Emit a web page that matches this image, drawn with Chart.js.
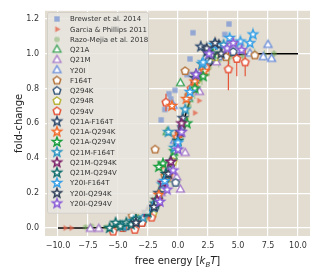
<!DOCTYPE html>
<html>
<head>
<meta charset="utf-8">
<script src="https://cdn.jsdelivr.net/npm/chart.js@4.4.0/dist/chart.umd.min.js"></script>
<style>
  html, body { margin: 0; padding: 0; background: #fff; }
</style>
</head>
<body>
<canvas id="chart" width="320" height="278"></canvas>
<script>
/* ===============================
   DATA (free energy in kBT, fold-change)
================================ */

const xTicks = [-10, -7.5, -5, -2.5, 0, 2.5, 5, 7.5, 10];
const yTicks = [0, 0.2, 0.4, 0.6, 0.8, 1.0, 1.2];

// theory curve
const theoryF = [-10, -9, -8, -7, -6, -5, -4, -3, -2, -1.5, -1, -0.5, 0, 0.5, 1, 1.5, 2, 3, 4, 5, 6, 7, 8, 9, 10];
const theoryFC = [0.0, 0.0, 0.0, 0.001, 0.002, 0.007, 0.018, 0.047, 0.12, 0.18, 0.27, 0.38, 0.5, 0.62, 0.73, 0.82, 0.88, 0.95, 0.98, 0.993, 0.997, 0.999, 1.0, 1.0, 1.0];

const brewF = [-1.1, -1.0, -0.75, -0.6, -0.4, -0.25, 0.75, 1.0, 1.25, 3.9, 4.25, -1.4];
const brewFC = [0.68, 0.72, 0.77, 0.74, 0.70, 0.79, 0.88, 0.97, 1.12, 1.11, 1.17, 0.62];

const garF = [-9.4, -8.9, 1.4, 1.75, -1.3];
const garFC = [0.0, 0.0, 0.66, 0.73, 0.35];

const razoF = [-7.7, -7.2, -6.6, -6.0, -5.0, -4.2, -3.3, -2.6, -2.1, -1.6, -1.1, -0.6, -0.1, 0.4, 0.9, 1.4, 2.0, 2.6, 3.4, 4.3, 5.4, 6.4, 7.2, 8.0];
const razoFC = [0.005, 0.01, 0.0, 0.005, 0.01, 0.02, 0.05, 0.08, 0.13, 0.2, 0.27, 0.37, 0.47, 0.58, 0.7, 0.8, 0.87, 0.92, 0.96, 0.98, 0.99, 1.0, 0.99, 1.0];
const razoErr = [0.01, 0.01, 0.01, 0.01, 0.01, 0.02, 0.03, 0.04, 0.05, 0.06, 0.07, 0.08, 0.08, 0.08, 0.07, 0.06, 0.05, 0.05, 0.04, 0.04, 0.03, 0.03, 0.03, 0.02];

const q21aF = [-3.4, -2.4, -1.7, -1.0, -0.4, 0.2, 0.9, 1.6, 2.6, -0.9];
const q21aFC = [0.03, 0.09, 0.17, 0.28, 0.41, 0.83, 0.74, 0.86, 0.97, 0.55];

const q21mF = [-7.3, -6.6, -4.4, -2.6, -1.4, -0.1, 0.6, 1.8, 3.2, 0.2];
const q21mFC = [-0.005, -0.005, 0.01, 0.07, 0.2, 0.29, 0.43, 0.78, 0.95, 0.22];

const y20iF = [-1.6, -0.3, 0.8, 1.9, 3.4, 4.9, 6.0, 7.1, 7.5, 7.8, -0.4];
const y20iFC = [0.18, 0.5, 0.75, 0.9, 0.98, 1.02, 1.0, 0.98, 1.05, 0.97, 0.7];

const f164tF = [-3.8, -3.1, -2.1, -1.1, -0.1, 0.9, 2.1, 4.0, 6.4, -1.9, 0.6];
const f164tFC = [0.07, 0.04, 0.12, 0.3, 0.5, 0.76, 0.92, 0.98, 0.99, 0.45, 0.9];

const q294kF = [-4.3, -3.0, -1.9, -0.7, 0.3, 1.3, 2.6, 4.6, -0.2];
const q294kFC = [0.01, 0.03, 0.12, 0.33, 0.58, 0.8, 0.96, 1.01, 0.26];

const q294rF = [-2.9, -2.1, -1.2, -0.4, 0.5, 1.6, 3.1, -3.3];
const q294rFC = [0.045, 0.08, 0.22, 0.38, 0.62, 0.85, 0.98, 0.05];

const q294vF = [-5.4, -4.6, -3.6, -2.2, -1.6, -0.8, 0.1, 1.1, 2.3, 4.2, 4.9, 5.6, -3.0, -1.0];
const q294vFC = [-0.02, 0.0, -0.01, 0.06, 0.15, 0.3, 0.54, 0.8, 0.92, 0.91, 0.97, 0.95, 0.03, 0.72];
const q294vErr = [0.01, 0.01, 0.01, 0.02, 0.03, 0.04, 0.05, 0.05, 0.05, 0.12, 0.1, 0.08, 0.01, 0.05];

const q21aF164tF = [-1.6, -0.6, 0.4, 1.4, 2.4, 3.4, 1.9];
const q21aF164tFC = [0.2, 0.38, 0.63, 0.86, 1.01, 1.05, 1.04];

const q21aQ294kF = [-2.6, -1.6, -0.9, -0.1, 0.7, 1.4, 2.2, -0.5];
const q21aQ294kFC = [0.08, 0.19, 0.3, 0.52, 0.74, 0.84, 0.9, 0.7];

const q21aQ294vF = [-1.8, -1.25, -0.3, 0.75, 1.4, 2.1, 2.9, -1.6];
const q21aQ294vFC = [0.16, 0.37, 0.44, 0.6, 0.8, 0.87, 1.0, 0.35];

const q21mF164tF = [-4.6, -3.7, -2.9, -1.3, -0.3, 0.6, 2.0, 3.8, -0.8];
const q21mF164tFC = [0.01, 0.04, 0.06, 0.25, 0.46, 0.68, 0.94, 1.05, 0.55];

const q21mQ294kF = [-2.6, -1.75, -1.25, -0.6, 0.3];
const q21mQ294kFC = [0.09, 0.16, 0.26, 0.38, 0.6];

const q21mQ294vF = [-5.7, -5.2, -4.8, -4.3, -3.9, -3.5, -2.5, -1.9, -1.0, 0.0];
const q21mQ294vFC = [0.0, 0.03, 0.01, 0.03, 0.02, 0.05, 0.09, 0.14, 0.31, 0.5];

const y20iF164tF = [-2.1, -1.1, 0.0, 1.0, 2.1, 3.0, 4.3, 5.2, 6.0, 6.25];
const y20iF164tFC = [0.12, 0.27, 0.49, 0.78, 0.95, 1.05, 1.09, 1.07, 1.06, 1.11];

const y20iQ294kF = [-3.5, -2.0, -0.8, 0.2, 1.5, 2.4, 3.1, 3.6, 2.8];
const y20iQ294kFC = [0.03, 0.12, 0.31, 0.55, 0.88, 1.03, 1.06, 1.0, 0.99];

const y20iQ294vF = [-1.5, -0.9, -0.4, 0.0, 0.3, 1.5, 2.6, 4.1, 4.6, 5.3];
const y20iQ294vFC = [0.15, 0.22, 0.33, 0.45, 0.55, 0.88, 1.0, 1.03, 1.06, 1.02];

/* ===============================
   MARKERS
================================ */

const bgColor = "#E3DDD1";

function makeMarker(shape, fill, stroke, r, lw, alpha) {
  const size = Math.ceil(2 * r + lw + 2);
  const c = document.createElement("canvas");
  c.width = c.height = size;
  const g = c.getContext("2d");
  g.translate(size / 2, size / 2);
  g.globalAlpha = alpha;
  g.beginPath();
  if (shape === "circle") {
    g.arc(0, 0, r, 0, 2 * Math.PI);
  } else if (shape === "square") {
    g.rect(-r, -r, 2 * r, 2 * r);
  } else {
    let n = 3, inner = 0, a0 = -Math.PI / 2;
    if (shape === "right") a0 = 0;
    if (shape === "pentagon") n = 5;
    if (shape === "star") { n = 5; inner = 0.42; }
    const steps = inner ? 2 * n : n;
    for (let k = 0; k < steps; k++) {
      const a = a0 + k * 2 * Math.PI / steps;
      const rr = inner && k % 2 ? r * inner : r;
      if (k) g.lineTo(rr * Math.cos(a), rr * Math.sin(a));
      else g.moveTo(rr * Math.cos(a), rr * Math.sin(a));
    }
    g.closePath();
  }
  if (fill) { g.fillStyle = fill; g.fill(); }
  if (stroke && lw) { g.lineWidth = lw; g.strokeStyle = stroke; g.stroke(); }
  return c;
}

const tri = c => makeMarker("triangle", "#fff", c, 4.6, 1.3, 1);
const pent = c => makeMarker("pentagon", "#fff", c, 4.0, 1.5, 1);
const star = c => makeMarker("star", "#fff", c, 4.8, 1.5, 1);

// [label, F, FC, marker]
const series = [
  ["Brewster et al. 2014", brewF, brewFC, makeMarker("square", "#7F9AD3", null, 2.7, 0, 0.8)],
  ["Garcia & Phillips 2011", garF, garFC, makeMarker("right", "#E3664C", null, 3.5, 0, 0.8)],
  ["Razo-Mejia et al. 2018", razoF, razoFC, makeMarker("circle", "#6FAA55", null, 2.8, 0, 0.45)],
  ["Q21A", q21aF, q21aFC, tri("#3FA45B")],
  ["Q21M", q21mF, q21mFC, tri("#A77BCA")],
  ["Y20I", y20iF, y20iFC, tri("#6C8EDB")],
  ["F164T", f164tF, f164tFC, pent("#B5743D")],
  ["Q294K", q294kF, q294kFC, pent("#3A5A7C")],
  ["Q294R", q294rF, q294rFC, pent("#B8B43E")],
  ["Q294V", q294vF, q294vFC, pent("#E4553A")],
  ["Q21A-F164T", q21aF164tF, q21aF164tFC, star("#2F4A6D")],
  ["Q21A-Q294K", q21aQ294kF, q21aQ294kFC, star("#F26A2A")],
  ["Q21A-Q294V", q21aQ294vF, q21aQ294vFC, star("#1B9E3E")],
  ["Q21M-F164T", q21mF164tF, q21mF164tFC, star("#2B95C2")],
  ["Q21M-Q294K", q21mQ294kF, q21mQ294kFC, star("#7B2166")],
  ["Q21M-Q294V", q21mQ294vF, q21mQ294vFC, star("#0E6B6B")],
  ["Y20I-F164T", y20iF164tF, y20iF164tFC, star("#37A0E6")],
  ["Y20I-Q294K", y20iQ294kF, y20iQ294kFC, star("#2E3E58")],
  ["Y20I-Q294V", y20iQ294vF, y20iQ294vFC, star("#8A5CD8")]
];

function points(F, FC) {
  return F.map((f, i) => ({ x: f, y: FC[i] }));
}

function errBars(F, FC, E) {
  const out = [];
  F.forEach((f, i) => {
    out.push({ x: f, y: FC[i] - E[i] }, { x: f, y: FC[i] + E[i] }, { x: f, y: null });
  });
  return out;
}

const datasets = [
  {
    type: "line", data: points(theoryF, theoryFC), borderColor: "#000", borderWidth: 1.5,
    pointRadius: 0, cubicInterpolationMode: "monotone", order: 100
  },
  {
    type: "line", data: errBars(razoF, razoFC, razoErr), borderColor: "rgba(111,170,85,0.45)",
    borderWidth: 1.2, pointRadius: 0, spanGaps: false, order: 99
  },
  {
    type: "line", data: errBars(q294vF, q294vFC, q294vErr), borderColor: "#E4553A",
    borderWidth: 1.2, pointRadius: 0, spanGaps: false, order: 60
  }
];

series.forEach((s, i) => {
  datasets.push({
    type: "scatter",
    data: points(s[1], s[2]),
    pointStyle: s[3],
    pointRadius: 4,
    order: i < 3 ? 98 - i : 50 - i
  });
});

const fmt = v => (v < 0 ? "\u2212" : "") + Math.abs(v).toFixed(1);

/* ===============================
   PLUGINS
================================ */

const plotBackground = {
  id: "plotBackground",
  beforeDraw(chart) {
    const { ctx, chartArea: a } = chart;
    ctx.save();
    ctx.fillStyle = bgColor;
    ctx.fillRect(a.left, a.top, a.right - a.left, a.bottom - a.top);
    ctx.restore();
  }
};

const boxLegend = {
  id: "boxLegend",
  afterDatasetsDraw(chart) {
    const ctx = chart.ctx;
    const x0 = 47.5, y0 = 12.5, w = 101, rowH = 10.25;
    const h = series.length * rowH + 6;
    ctx.save();
    ctx.beginPath();
    ctx.roundRect(x0, y0, w, h, 2);
    ctx.fillStyle = "rgba(232,229,223,0.85)";
    ctx.fill();
    ctx.strokeStyle = "#D3D0CA";
    ctx.lineWidth = 1;
    ctx.stroke();
    ctx.font = "7px 'DejaVu Sans'";
    ctx.fillStyle = "#333";
    ctx.textBaseline = "middle";
    series.forEach((s, i) => {
      const y = 19 + i * rowH;
      const m = s[3];
      ctx.drawImage(m, 57 - m.width / 2, y - m.height / 2);
      ctx.fillText(s[0], 70, y + 0.5);
    });
    ctx.restore();
  }
};

const xTitle = {
  id: "xTitle",
  afterDraw(chart) {
    const ctx = chart.ctx;
    const a = chart.chartArea;
    const parts = [
      ["free energy [", "10px 'DejaVu Sans'", 0],
      ["k", "italic 10px 'DejaVu Sans'", 0],
      ["B", "italic 7px 'DejaVu Sans'", 2.5],
      ["T", "italic 10px 'DejaVu Sans'", 0],
      ["]", "10px 'DejaVu Sans'", 0]
    ];
    ctx.save();
    let total = 0;
    parts.forEach(p => { ctx.font = p[1]; total += ctx.measureText(p[0]).width; });
    let x = (a.left + a.right) / 2 - total / 2;
    const y = 264;
    ctx.fillStyle = "#222";
    ctx.textBaseline = "alphabetic";
    parts.forEach(p => {
      ctx.font = p[1];
      ctx.fillText(p[0], x, y + p[2]);
      x += ctx.measureText(p[0]).width;
    });
    ctx.restore();
  }
};

/* ===============================
   CHART
================================ */

new Chart(document.getElementById("chart"), {
  data: { datasets },
  options: {
    responsive: false,
    animation: false,
    devicePixelRatio: 1,
    layout: { padding: { left: 0, right: 10, top: 10, bottom: 0 } },
    plugins: { legend: { display: false }, tooltip: { enabled: false } },
    scales: {
      x: {
        type: "linear",
        min: -11.08,
        max: 11.0,
        afterBuildTicks: s => { s.ticks = xTicks.map(v => ({ value: v })); },
        afterFit: s => { s.height = 42; },
        grid: { color: "#fff", lineWidth: 1.2, drawTicks: false },
        border: { display: false },
        ticks: {
          padding: 5,
          color: "#333",
          font: { family: "DejaVu Sans", size: 8 },
          maxRotation: 0,
          callback: v => fmt(v)
        }
      },
      y: {
        type: "linear",
        min: -0.0457,
        max: 1.2457,
        afterBuildTicks: s => { s.ticks = yTicks.map(v => ({ value: v })); },
        afterFit: s => { s.width = 45; },
        grid: { color: "#fff", lineWidth: 1.2, drawTicks: false },
        border: { display: false },
        ticks: {
          padding: 6,
          color: "#333",
          font: { family: "DejaVu Sans", size: 8 },
          callback: v => fmt(v)
        },
        title: {
          display: true,
          text: "fold-change",
          color: "#222",
          font: { family: "DejaVu Sans", size: 10 },
          padding: { top: 13, bottom: 0 }
        }
      }
    }
  },
  plugins: [plotBackground, boxLegend, xTitle]
});
</script>
</body>
</html>
